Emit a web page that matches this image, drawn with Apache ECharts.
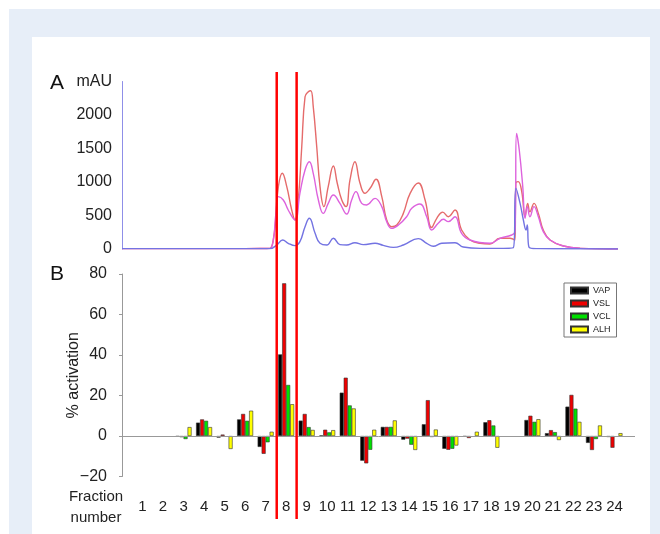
<!DOCTYPE html>
<html lang="en">
<head>
<meta charset="UTF-8">
<title>Fractions</title>
<script src="https://cdn.jsdelivr.net/npm/echarts@6/dist/echarts.min.js"></script>
<style>
    html, body { margin: 0; padding: 0; background: #fff; }
    #frame { position: absolute; left: 9px; top: 9px; width: 651px; height: 525px; background: #e7eef8; }
    #panel { position: absolute; left: 32px; top: 37px; width: 618px; height: 497px; background: #fff; }
    #chart { position: absolute; left: 0; top: 0; width: 660px; height: 534px; }
</style>
</head>
<body>
<div id="frame"></div>
<div id="panel"></div>
<div id="chart"></div>
<script>
// fraction labels for the bottom axis
var fractionLabels = ['1','2','3','4','5','6','7','8','9','10','11','12',
    '13','14','15','16','17','18','19','20','21','22','23','24'];

// % activation per fraction (1..24)
var vap = [0, 0, -0.3, 6.6, -0.8, 8.2, -5.4, 40.3, 7.6, 0.3, 21.4, -12.2, 4.5, -1.8, 5.8, -6.3, -0.3, 6.8, 0, 7.9, 1.4, 14.5, -3.4, -0.5];
var vsl = [0, 0, -0.6, 8.2, 0.7, 10.9, -8.8, 75.4, 10.9, 3.1, 28.8, -13.5, 4.5, -1.3, 17.7, -6.8, -1.0, 7.8, 0, 10.0, 2.9, 20.3, -6.9, -5.8];
var vcl = [0, 0, -1.5, 7.5, 0, 7.5, -3.1, 25.2, 4.4, 1.8, 15.1, -6.8, 4.5, -4.3, -0.5, -6.3, 0, 5.2, 0, 7.0, 1.9, 13.5, -1.5, 0];
var alh = [0, 0, 4.4, 4.4, -6.4, 12.5, 2.1, 15.7, 3.0, 2.9, 13.6, 3.1, 7.7, -6.9, 3.2, -4.7, 2.1, -5.8, 0, 8.3, -2.0, 7.0, 5.2, 1.4];

// chromatogram traces, [fraction position, mAU]
var traceRed = [[0,5],[3,5],[6,5],[7.0,8],[7.21,10],[7.37,134],[7.5,482],[7.62,930],[7.81,1130],[8.03,930],
    [8.27,582],[8.43,433],[8.59,731],[8.76,1527],[8.92,2273],[9.08,2348],[9.2,2363],[9.32,2124],[9.49,1527],
    [9.65,930],[9.84,632],[10.05,930],[10.3,1239],[10.49,981],[10.71,731],[10.92,632],[11.11,1030],[11.35,1303],
    [11.6,981],[11.84,831],[12.09,906],[12.38,1040],[12.66,781],[12.9,433],[13.14,333],[13.39,358],[13.71,532],
    [14.04,831],[14.44,985],[14.77,731],[15.09,320],[15.34,458],[15.63,550],[15.9,482],[16.23,582],[16.55,283],
    [16.96,134],[17.45,85],[17.93,75],[18.42,160],[18.91,160],[19.15,134],[19.19,981],[19.31,1005],[19.48,856],
    [19.64,482],[19.77,681],[19.88,557],[20.08,681],[20.29,532],[20.53,283],[20.86,134],[21.51,45],[22.32,10],[24.17,0]];
var traceMagenta = [[0,5],[3,5],[6,5],[7.0,8],[7.21,10],[7.37,120],[7.5,532],[7.62,781],[7.86,731],[8.1,582],
    [8.43,433],[8.67,831],[8.92,1179],[9.13,1303],[9.32,1129],[9.57,731],[9.81,532],[10.05,681],[10.3,806],
    [10.62,681],[10.95,522],[11.19,731],[11.4,856],[11.68,681],[11.92,657],[12.33,756],[12.66,632],[12.9,408],
    [13.14,308],[13.47,358],[13.87,482],[14.12,607],[14.52,672],[14.85,482],[15.09,283],[15.41,383],[15.66,443],
    [15.9,408],[16.23,482],[16.55,234],[16.96,134],[17.93,85],[18.42,160],[18.99,209],[19.15,259],[19.23,1726],
    [19.36,1478],[19.53,930],[19.64,458],[19.75,632],[19.88,482],[20.08,632],[20.29,482],[20.53,259],[20.86,134],
    [21.51,45],[22.32,10],[24.17,0]];
var traceBlue = [[0,5],[3,5],[6,5],[7.21,5],[7.54,60],[7.83,134],[8.1,85],[8.43,50],[8.67,110],[8.92,333],
    [9.13,458],[9.41,234],[9.65,85],[9.98,60],[10.3,160],[10.62,66],[10.95,60],[11.35,94],[11.76,66],[12.33,85],
    [12.73,55],[13.22,25],[13.71,60],[14.44,155],[14.85,85],[15.17,40],[15.58,85],[16.23,94],[16.63,30],
    [17.45,10],[18.26,10],[19.07,20],[19.2,906],[19.4,681],[19.56,433],[19.69,283],[19.75,358],[19.83,30],
    [20.21,5],[24.17,0]];

// the two red marker lines, in fraction units
var markerFractions = [7.54, 8.51];

var font = 'Liberation Sans, Arial, sans-serif';
var myChart = echarts.init(document.getElementById('chart'));

var barLabels = [''].concat(fractionLabels, ['']);
// zero-height bars are left out so no outline shows on the zero line
function pad(arr) {
    return ['-'].concat(arr.map(function (v) { return v === 0 ? '-' : v; }), ['-']);
}

function lineSeries(name, data, color) {
    return {
        name: name, type: 'line', xAxisIndex: 0, yAxisIndex: 0,
        data: data, showSymbol: false, smooth: 0.45,
        lineStyle: { color: color, width: 1.4 }, silent: true
    };
}
function barSeries(name, data, color) {
    return {
        name: name, type: 'bar', xAxisIndex: 1, yAxisIndex: 1,
        data: pad(data), barWidth: 4, barGap: '0%',
        itemStyle: { color: color, borderColor: '#333', borderWidth: 0.6 }
    };
}

var bars = [
    barSeries('VAP', vap, '#000000'),
    barSeries('VSL', vsl, '#ee0000'),
    barSeries('VCL', vcl, '#00e000'),
    barSeries('ALH', alh, '#ffff00')
];
bars[0].markLine = {
    silent: true, symbol: 'none', label: { show: false },
    lineStyle: { color: '#999', width: 1, type: 'solid' },
    data: [{ yAxis: 0 }]
};

var option = {
    animation: false,
    textStyle: { fontFamily: font },
    grid: [
        { left: 122, width: 513, top: 81.5, height: 167.5 },
        { left: 122, width: 513, top: 274, height: 202.5 }
    ],
    xAxis: [
        { type: 'value', gridIndex: 0, min: 0, max: 25, show: false },
        {
            type: 'category', gridIndex: 1, data: barLabels, boundaryGap: false,
            axisLine: { show: false, onZero: false }, axisTick: { show: false },
            axisLabel: { interval: 0, margin: 23, fontSize: 15, color: '#222', fontFamily: font }
        }
    ],
    yAxis: [
        {
            type: 'value', gridIndex: 0, min: 0, max: 2500, interval: 500,
            axisLine: { show: true, lineStyle: { color: '#8f8fe8', width: 1 } },
            axisTick: { show: false }, splitLine: { show: false },
            axisLabel: {
                margin: 10, fontSize: 16, color: '#222', fontFamily: font,
                formatter: function (v) { return v === 2500 ? 'mAU' : v; }
            }
        },
        {
            type: 'value', gridIndex: 1, min: -20, max: 80, interval: 20,
            name: '% activation', nameLocation: 'middle', nameGap: 40, nameMoveOverlap: false,
            nameTextStyle: { fontSize: 16, color: '#222', fontFamily: font },
            axisLine: { show: true, lineStyle: { color: '#999', width: 1 } },
            axisTick: { show: true, length: 3, lineStyle: { color: '#999' } },
            splitLine: { show: false },
            axisLabel: {
                margin: 15, fontSize: 16, color: '#222', fontFamily: font,
                formatter: function (v) { return v < 0 ? '\u2212' + Math.abs(v) : v; }
            }
        }
    ],
    legend: {
        data: ['VAP', 'VSL', 'VCL', 'ALH'],
        orient: 'vertical', left: 564, top: 283,
        icon: 'rect', itemWidth: 17, itemHeight: 6, itemGap: 2,
        padding: [2, 6, 2, 6],
        borderColor: '#777', borderWidth: 1, backgroundColor: '#fff',
        textStyle: { fontSize: 9, lineHeight: 11, color: '#222', fontFamily: font },
        selectedMode: false
    },
    series: [
        lineSeries('red', traceRed, '#e56b6b'),
        lineSeries('magenta', traceMagenta, '#dd62dd'),
        lineSeries('blue', traceBlue, '#7373e2')
    ].concat(bars)
};

myChart.setOption(option);

// labels and the red marker lines
var graphics = [
    { type: 'text', left: 50, top: 73, style: { text: 'A', fontSize: 21, fill: '#111', fontFamily: font } },
    { type: 'text', left: 50, top: 264, style: { text: 'B', fontSize: 21, fill: '#111', fontFamily: font } },
    { type: 'text', x: 96, y: 507, style: { text: 'Fraction\nnumber', fontSize: 15, lineHeight: 21,
        fill: '#222', fontFamily: font, align: 'center', verticalAlign: 'middle' } }
];
markerFractions.forEach(function (f) {
    var px = myChart.convertToPixel({ xAxisIndex: 0 }, f);
    graphics.push({
        type: 'line', z: 100,
        shape: { x1: px, y1: 72, x2: px, y2: 519 },
        style: { stroke: '#ff0000', lineWidth: 2.5 }
    });
});
myChart.setOption({ graphic: graphics });
</script>
</body>
</html>
